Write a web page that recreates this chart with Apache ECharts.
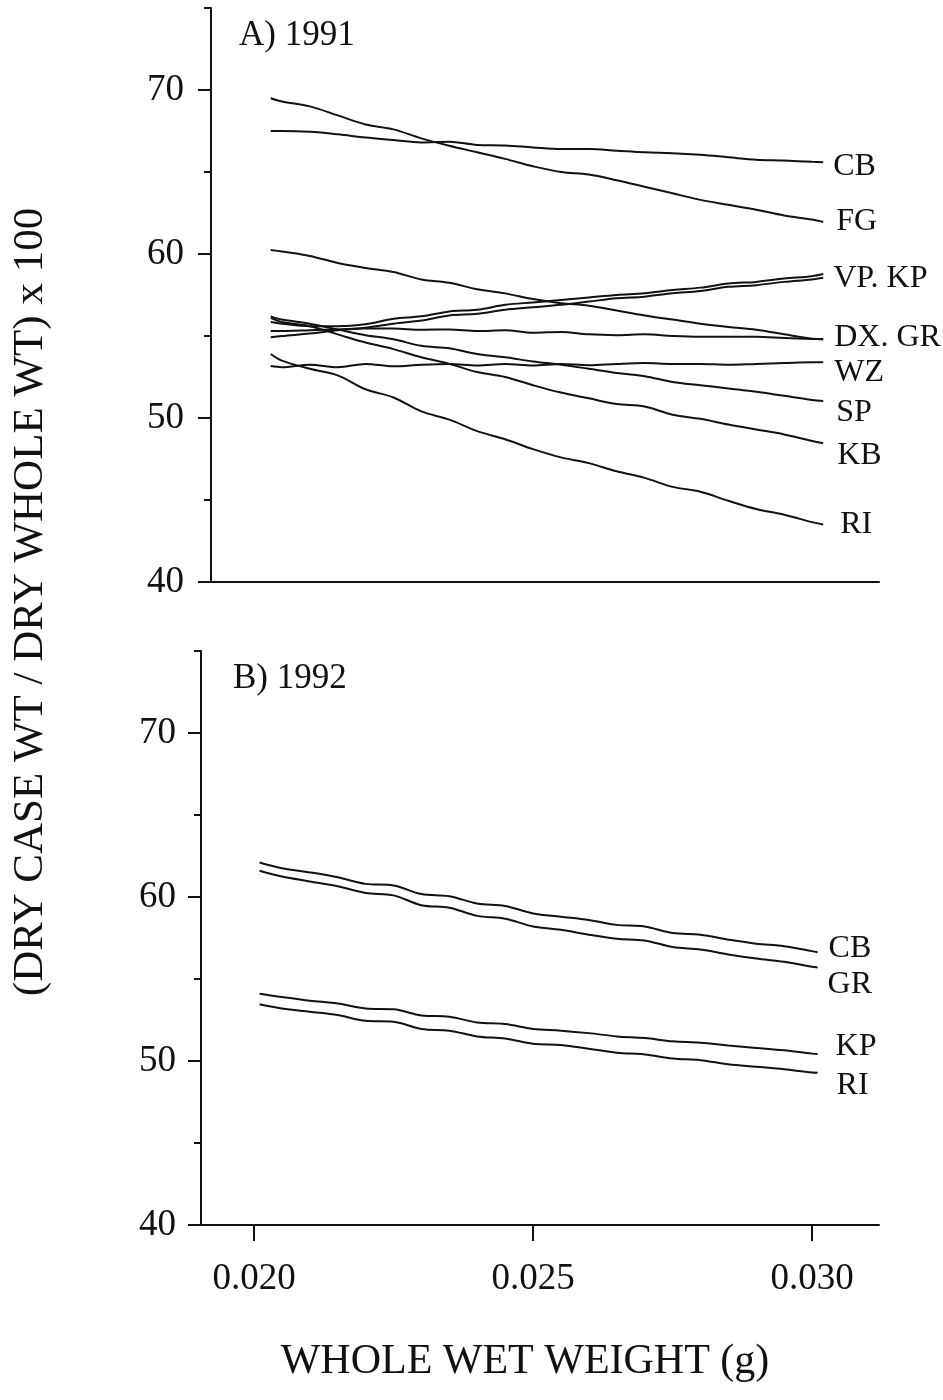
<!DOCTYPE html>
<html>
<head>
<meta charset="utf-8">
<script src="https://cdn.jsdelivr.net/npm/echarts@6/dist/echarts.min.js"></script>
<style>
  html, body { margin: 0; padding: 0; background: #ffffff; }
  #chart { width: 943px; height: 1400px; }
</style>
</head>
<body>
<div id="chart"></div>
<script>
// Case-weight ratio against whole wet weight, fitted curves per site.
// Panel A: 1991
const xs1991 = [0.0203, 0.0205, 0.0210, 0.0215, 0.0220, 0.0225, 0.0230, 0.0235, 0.0240, 0.0245, 0.0250,
                0.0255, 0.0260, 0.0265, 0.0270, 0.0275, 0.0280, 0.0285, 0.0290, 0.0295, 0.0300, 0.0302];
const cb1991 = [67.5, 67.5, 67.45, 67.3, 67.1, 66.95, 66.8, 66.85, 66.65, 66.62, 66.5, 66.4, 66.4, 66.3, 66.2, 66.15, 66.05, 65.9, 65.75, 65.7, 65.62, 65.6];
const fg1991 = [69.5, 69.3, 69.0, 68.45, 67.9, 67.6, 67.05, 66.6, 66.2, 65.8, 65.35, 65.0, 64.85, 64.5, 64.1, 63.7, 63.3, 63.0, 62.7, 62.35, 62.1, 61.95];
const vp1991 = [55.85, 55.75, 55.6, 55.6, 55.72, 56.05, 56.2, 56.5, 56.6, 56.9, 57.05, 57.2, 57.35, 57.5, 57.6, 57.8, 57.95, 58.2, 58.3, 58.5, 58.65, 58.78];
const kp1991 = [54.92, 55.0, 55.15, 55.35, 55.5, 55.75, 55.95, 56.25, 56.35, 56.6, 56.75, 56.9, 57.1, 57.3, 57.4, 57.6, 57.75, 58.0, 58.1, 58.3, 58.45, 58.55];
const dx1991 = [60.25, 60.15, 59.88, 59.45, 59.15, 58.9, 58.45, 58.25, 57.85, 57.6, 57.25, 57.0, 56.85, 56.55, 56.25, 56.0, 55.75, 55.55, 55.38, 55.1, 54.83, 54.8];
const gr1991 = [55.3, 55.3, 55.35, 55.4, 55.45, 55.45, 55.38, 55.4, 55.3, 55.35, 55.2, 55.25, 55.1, 55.05, 55.1, 55.0, 54.95, 54.95, 54.95, 54.88, 54.82, 54.8];
const wz1991 = [53.17, 53.1, 53.25, 53.1, 53.3, 53.15, 53.25, 53.3, 53.2, 53.3, 53.2, 53.3, 53.22, 53.3, 53.35, 53.3, 53.3, 53.25, 53.3, 53.35, 53.4, 53.4];
const sp1991 = [56.2, 56.0, 55.75, 55.4, 55.05, 54.8, 54.4, 54.25, 53.9, 53.7, 53.45, 53.25, 53.0, 52.75, 52.55, 52.2, 52.0, 51.8, 51.6, 51.35, 51.1, 51.04];
const kb1991 = [56.1, 55.85, 55.6, 55.1, 54.6, 54.2, 53.7, 53.3, 52.8, 52.5, 52.0, 51.55, 51.2, 50.85, 50.7, 50.2, 49.95, 49.6, 49.3, 49.0, 48.6, 48.46];
const ri1991 = [53.9, 53.5, 53.0, 52.6, 51.75, 51.25, 50.4, 49.9, 49.2, 48.7, 48.1, 47.6, 47.25, 46.75, 46.35, 45.8, 45.5, 44.95, 44.45, 44.1, 43.65, 43.5];

// Panel B: 1992
const xs1992 = [0.0201, 0.0205, 0.0210, 0.0215, 0.0220, 0.0225, 0.0230, 0.0235, 0.0240, 0.0245, 0.0250,
                0.0255, 0.0260, 0.0265, 0.0270, 0.0275, 0.0280, 0.0285, 0.0290, 0.0295, 0.0300, 0.0301];
const cb1992 = [62.1, 61.75, 61.5, 61.2, 60.8, 60.7, 60.18, 60.05, 59.6, 59.45, 59.0, 58.8, 58.6, 58.3, 58.2, 57.8, 57.7, 57.4, 57.15, 57.0, 56.7, 56.63];
const gr1992 = [61.6, 61.25, 60.95, 60.65, 60.25, 60.1, 59.5, 59.35, 58.85, 58.68, 58.2, 58.0, 57.7, 57.45, 57.35, 56.95, 56.8, 56.5, 56.25, 56.05, 55.75, 55.7];
const kp1992 = [54.1, 53.9, 53.68, 53.5, 53.2, 53.15, 52.78, 52.7, 52.35, 52.25, 51.95, 51.85, 51.7, 51.5, 51.4, 51.2, 51.12, 50.95, 50.8, 50.65, 50.45, 50.43];
const ri1992 = [53.46, 53.2, 53.0, 52.8, 52.45, 52.4, 51.95, 51.85, 51.5, 51.37, 51.05, 50.98, 50.75, 50.5, 50.4, 50.15, 50.05, 49.8, 49.65, 49.5, 49.3, 49.29];

// Axis ticks and labels
const yMajorTicks = [40, 50, 60, 70];
const yMinorTicks = [45, 55, 65, 75];
const xTickValues = [0.020, 0.025, 0.030];
const panelTitles = ['A) 1991', 'B) 1992'];
const xTitle = 'WHOLE WET WEIGHT (g)';
const yTitle = '(DRY CASE WT / DRY WHOLE WT) x 100';

const FONT = '"Liberation Serif", "DejaVu Serif", serif';
const INK = '#111111';

// label: text printed at the right end of the curve (null = none), with its nudge [dx, dy]
const curves = [
  { panel: 0, xs: xs1991, ys: cb1991, label: 'CB', nudge: [10, 4] },
  { panel: 0, xs: xs1991, ys: fg1991, label: 'FG', nudge: [13, 0] },
  { panel: 0, xs: xs1991, ys: vp1991, label: null },
  { panel: 0, xs: xs1991, ys: kp1991, label: 'VP. KP', nudge: [10, 1] },
  { panel: 0, xs: xs1991, ys: dx1991, label: null },
  { panel: 0, xs: xs1991, ys: gr1991, label: 'DX. GR', nudge: [11, -2] },
  { panel: 0, xs: xs1991, ys: wz1991, label: 'WZ', nudge: [11, 10] },
  { panel: 0, xs: xs1991, ys: sp1991, label: 'SP', nudge: [13, 12] },
  { panel: 0, xs: xs1991, ys: kb1991, label: 'KB', nudge: [14, 12] },
  { panel: 0, xs: xs1991, ys: ri1991, label: 'RI', nudge: [17, 0] },
  { panel: 1, xs: xs1992, ys: cb1992, label: 'CB', nudge: [11, -4] },
  { panel: 1, xs: xs1992, ys: gr1992, label: 'GR', nudge: [10, 17] },
  { panel: 1, xs: xs1992, ys: kp1992, label: 'KP', nudge: [18, -7] },
  { panel: 1, xs: xs1992, ys: ri1992, label: 'RI', nudge: [19, 13] }
];

const chart = echarts.init(document.getElementById('chart'), null, { renderer: 'canvas' });

// Each panel has a labelled y axis for the major ticks and an unlabelled one, on the same side, for the half steps.
function yAxisPair(gridIndex, labelMargin) {
  return [
    {
      type: 'value', gridIndex: gridIndex, position: 'left', min: 40, max: 75,
      axisLine: { show: true, lineStyle: { color: INK, width: 2 } },
      axisTick: { show: true, length: 13, customValues: yMajorTicks, lineStyle: { color: INK, width: 2 } },
      axisLabel: { show: true, customValues: yMajorTicks, margin: labelMargin, fontFamily: FONT, fontSize: 37, color: INK },
      splitLine: { show: false }
    },
    {
      type: 'value', gridIndex: gridIndex, position: 'left', offset: 0, min: 40, max: 75,
      axisLine: { show: false },
      axisTick: { show: true, length: 7, customValues: yMinorTicks, lineStyle: { color: INK, width: 2 } },
      axisLabel: { show: false },
      splitLine: { show: false }
    }
  ];
}

const series = curves.map(function (c) {
  return {
    type: 'line',
    xAxisIndex: c.panel,
    yAxisIndex: c.panel * 2,
    data: c.xs.map(function (x, i) { return [x, c.ys[i]]; }),
    smooth: 0.35,
    showSymbol: false,
    symbol: 'none',
    silent: true,
    lineStyle: { color: INK, width: 2 },
    endLabel: c.label ? {
      show: true,
      formatter: c.label,
      distance: 0,
      offset: c.nudge,
      fontFamily: FONT,
      fontSize: 32,
      color: INK
    } : { show: false }
  };
});

chart.setOption({
  animation: false,
  backgroundColor: '#ffffff',
  title: [
    { text: panelTitles[0], left: 239, top: 18, padding: 0,
      textStyle: { fontFamily: FONT, fontSize: 35, fontWeight: 'normal', color: INK } },
    { text: panelTitles[1], left: 233, top: 661, padding: 0,
      textStyle: { fontFamily: FONT, fontSize: 35, fontWeight: 'normal', color: INK } }
  ],
  grid: [
    { left: 211, right: 64, top: 8, height: 574 },
    { left: 201, right: 64, top: 651, height: 574 }
  ],
  xAxis: [
    {
      type: 'value', gridIndex: 0, min: 0.01923, max: 0.0312,
      axisLine: { show: true, onZero: false, lineStyle: { color: INK, width: 2 } },
      axisTick: { show: false },
      axisLabel: { show: false },
      splitLine: { show: false }
    },
    {
      type: 'value', gridIndex: 1, min: 0.01905, max: 0.0312,
      axisLine: { show: true, onZero: false, lineStyle: { color: INK, width: 2 } },
      axisTick: { show: true, length: 16, customValues: xTickValues, lineStyle: { color: INK, width: 2 } },
      axisLabel: {
        show: true, customValues: xTickValues, margin: 36,
        fontFamily: FONT, fontSize: 37, color: INK,
        formatter: function (v) { return v.toFixed(3); }
      },
      splitLine: { show: false }
    }
  ],
  yAxis: yAxisPair(0, 27).concat(yAxisPair(1, 25)),
  graphic: [
    {
      type: 'text', x: 525, y: 1362,
      style: { text: xTitle, font: '42px ' + FONT, fill: INK, align: 'center', verticalAlign: 'middle',
               textAlign: 'center', textVerticalAlign: 'middle' }
    },
    {
      type: 'text', x: 31, y: 602, rotation: Math.PI / 2,
      style: { text: yTitle, font: '43px ' + FONT, fill: INK, align: 'center', verticalAlign: 'middle',
               textAlign: 'center', textVerticalAlign: 'middle' }
    }
  ],
  series: series
});
</script>
</body>
</html>
